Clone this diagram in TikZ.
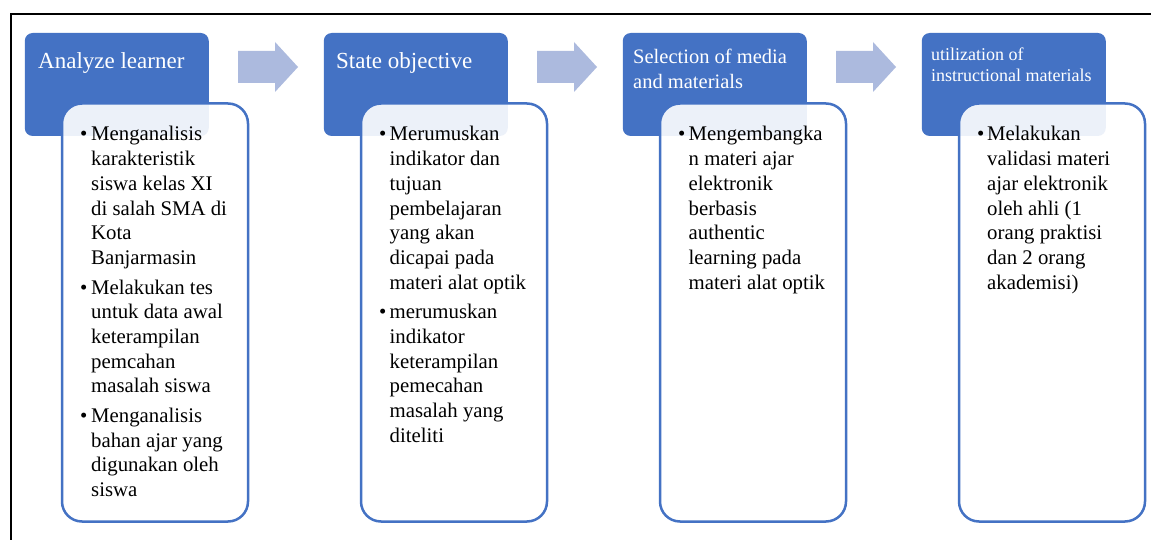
\documentclass[tikz,border=0pt]{standalone}
\usepackage{fontspec}
\setmainfont{Liberation Serif}
\definecolor{accent}{RGB}{68,114,196}
\definecolor{arrowc}{RGB}{172,186,222}
\tikzset{
  headbox/.style={fill=accent, rounded corners=8pt},
  bodybox/.style={draw=accent, line width=2.5pt, fill=white, fill opacity=0.9, rounded corners=20pt},
  flowarrow/.style={fill=arrowc},
  frameline/.style={draw=black, line width=2pt},
  titletext/.style={anchor=base west, inner sep=0pt, text=white},
  bodytext/.style={anchor=base west, inner sep=0pt, text=black},
  bulletmark/.style={anchor=base west, inner sep=0pt, text=black, font=\fontsize{20.8pt}{24.7pt}\selectfont},
}
\newcommand\bodylines[1]{\parbox[t]{170pt}{\fontsize{20.8pt}{24.7pt}\selectfont\raggedright #1}}
\begin{document}
\begin{tikzpicture}[x=1pt,y=-1pt]
\useasboundingbox (0,0) rectangle (1151,540);
\fill[white] (0,0) rectangle (1151,540);
\draw[frameline] (11,545) -- (11,14.3) -- (1156,14.3);

% heads and bodies
\foreach \i in {0,1,2,3}{
  \path[headbox] ({24.75+299*\i},33) rectangle ++(184,103);
  \path[bodybox] ({62+299*\i},103.5) rectangle ++(186,418);
}
\node[coordinate] (head1) at (24.75,33) {};
% arrows
\foreach \i in {0,1,2}{
  \fill[flowarrow] ({238+299*\i},51) -- ++(37,0) -- ++(0,-9) -- ++(23,25) -- ++(-23,25) -- ++(0,-9) -- ++(-37,0) -- cycle;
}

% titles
\node[titletext, font=\fontsize{23pt}{27pt}\selectfont] (title1) at (38,69) {Analyze learner};
\node[titletext, font=\fontsize{23pt}{27pt}\selectfont] (title2) at (336,69) {State objective};
\node[titletext] (title3) at (633,64) {\parbox[t]{175pt}{\fontsize{20.5pt}{25pt}\selectfont Selection of media\\and materials}};
\node[titletext] (title4) at (931,61) {\parbox[t]{175pt}{\fontsize{18pt}{21pt}\selectfont utilization of\\instructional materials}};

% column 1
\node[bulletmark] (b1a) at (80,141) {•};
\node[bodytext] (t1a) at (91,141) {\bodylines{Menganalisis\\karakteristik\\siswa kelas XI\\di salah SMA di\\Kota\\Banjarmasin}};
\node[bulletmark] (b1b) at (80,294) {•};
\node[bodytext] (t1b) at (91,294) {\bodylines{Melakukan tes\\untuk data awal\\keterampilan\\pemcahan\\masalah siswa}};
\node[bulletmark] (b1c) at (80,422.3) {•};
\node[bodytext] (t1c) at (91,422.3) {\bodylines{Menganalisis\\bahan ajar yang\\digunakan oleh\\siswa}};

% column 2
\node[bulletmark] (b2a) at (379,141) {•};
\node[bodytext] (t2a) at (389.5,141) {\bodylines{Merumuskan\\indikator dan\\tujuan\\pembelajaran\\yang akan\\dicapai pada\\materi alat optik}};
\node[bulletmark] (b2b) at (379,318.7) {•};
\node[bodytext] (t2b) at (389.5,318.7) {\bodylines{merumuskan\\indikator\\keterampilan\\pemecahan\\masalah yang\\diteliti}};

% column 3
\node[bulletmark] (b3a) at (678,141) {•};
\node[bodytext] (t3a) at (688.5,141) {\bodylines{Mengembangka\\n materi ajar\\elektronik\\berbasis\\authentic\\learning pada\\materi alat optik}};

% column 4
\node[bulletmark] (b4a) at (977,141) {•};
\node[bodytext] (t4a) at (987,141) {\bodylines{Melakukan\\validasi materi\\ajar elektronik\\oleh ahli (1\\orang praktisi\\dan 2 orang\\akademisi)}};
\end{tikzpicture}
\end{document}
